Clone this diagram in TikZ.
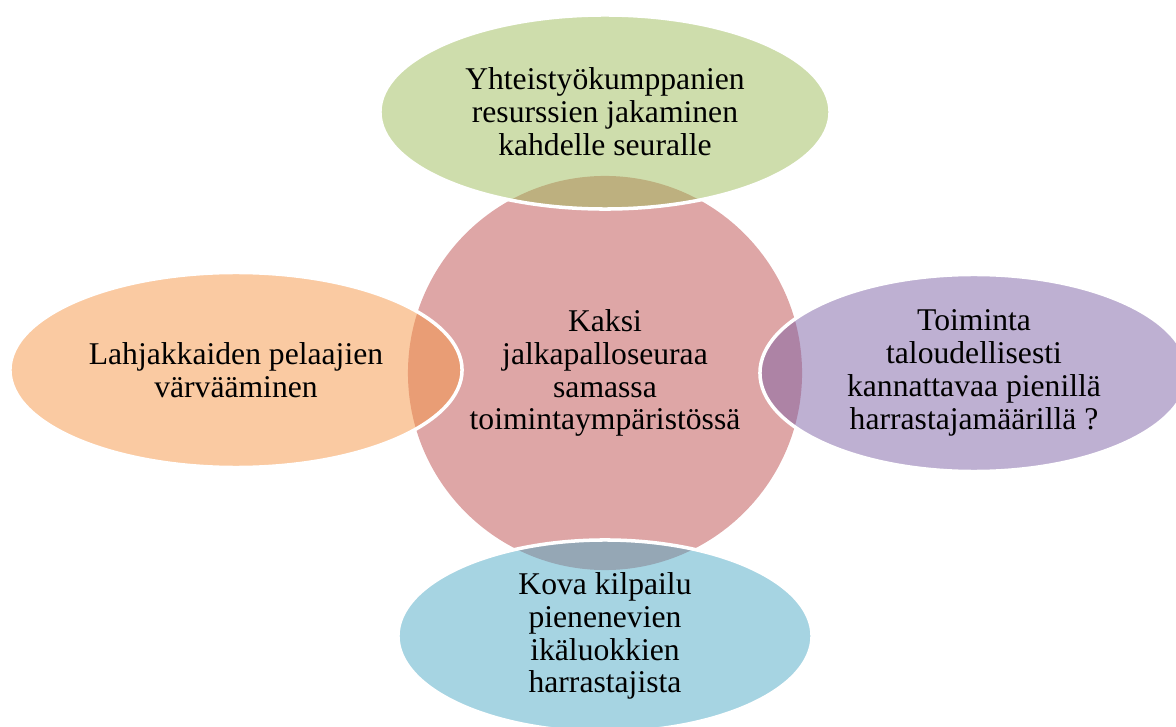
\documentclass[tikz,border=0pt]{standalone}
\usepackage{fontspec}
\setmainfont{Liberation Serif}
\usetikzlibrary{shapes.geometric}
\definecolor{kaksired}{RGB}{222,166,166}
\definecolor{yhtgreen}{RGB}{157,187,89}
\definecolor{lahjorange}{RGB}{245,149,69}
\definecolor{toimviolet}{RGB}{125,97,165}
\definecolor{kovablue}{RGB}{77,169,197}
\begin{document}
\begin{tikzpicture}[x=0.025cm,y=-0.025cm,
  every node/.style={align=center,inner sep=0pt,font=\fontsize{22.5}{23.4}\selectfont},
  bubble/.style={ellipse,draw=white,line width=2.5pt,fill opacity=0.5,text opacity=1}]
% \draw[help lines] (0,0) grid (1176,727);
\useasboundingbox (0,0) rectangle (1176,727);
\clip (0,0) rectangle (1176,727);
\node (kaksi) [circle,fill=kaksired,minimum size=9.85cm] at (605,373)
  {Kaksi\\jalkapalloseuraa\\samassa\\toimintaympäristössä};
%
\node (yht) [bubble,fill=yhtgreen,minimum width=11.25cm,minimum height=4.85cm] at (605,112)
  {Yhteistyökumppanien\\resurssien jakaminen\\kahdelle seuralle};
\node (lahj) [bubble,fill=lahjorange,minimum width=11.3cm,minimum height=4.875cm] at (236,370)
  {Lahjakkaiden pelaajien\\värvääminen};
\node (toim) [bubble,fill=toimviolet,minimum width=10.7cm,minimum height=4.925cm] at (974,373)
  {Toiminta\\taloudellisesti\\kannattavaa pienillä\\harrastajamäärillä ?};
\node (kova) [bubble,fill=kovablue,minimum width=10.35cm,minimum height=4.8cm] at (605,636)
  {Kova kilpailu\\pienenevien\\ikäluokkien\\harrastajista};
\end{tikzpicture}
\end{document}
